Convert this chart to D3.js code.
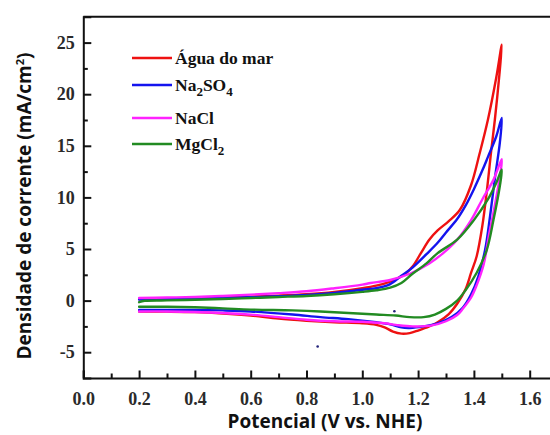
<!DOCTYPE html>
<html><head><meta charset="utf-8">
<script src="https://cdn.jsdelivr.net/npm/d3@7"></script>
<style>html,body{margin:0;padding:0;background:#fff;}svg{display:block;}</style>
</head><body>
<svg id="chart" width="550" height="435"></svg>
<script>
// ---- data ----
const seriesNames = ["Água do mar", "Na2SO4", "NaCl", "MgCl2"];
const seriesColors = ["#ee1111", "#1414ee", "#ff22ff", "#228b22"];

// Água do mar (forward then reverse)
const aguaV = [0.20,0.30,0.40,0.50,0.60,0.70,0.80,0.90,1.00,1.05,1.10,1.15,1.18,1.21,1.24,1.27,1.31,1.35,1.39,1.42,1.45,1.48,1.50,
               1.49,1.475,1.462,1.448,1.43,1.41,1.39,1.37,1.34,1.31,1.27,1.24,1.20,1.17,1.14,1.11,1.08,1.05,1.00,0.90,0.80,0.70,0.60,0.50,0.40,0.30,0.20];
const aguaI = [0.15,0.20,0.25,0.30,0.38,0.48,0.62,0.85,1.20,1.45,1.85,2.50,3.30,4.60,5.90,6.80,7.70,8.80,11.2,14.2,17.5,21.6,24.8,
               21.5,17.5,14.5,11.0,7.2,4.3,2.7,1.1,-0.3,-1.3,-2.1,-2.5,-2.9,-3.15,-3.2,-3.0,-2.6,-2.35,-2.2,-2.1,-1.95,-1.75,-1.45,-1.25,-1.12,-1.07,-1.05];

// Na2SO4
const na2so4V = [0.20,0.30,0.40,0.50,0.60,0.70,0.80,0.90,1.00,1.05,1.075,1.10,1.14,1.18,1.23,1.27,1.30,1.34,1.37,1.40,1.43,1.45,1.48,1.50,
                 1.493,1.476,1.458,1.44,1.416,1.39,1.36,1.32,1.27,1.22,1.17,1.14,1.10,1.05,0.95,0.85,0.75,0.60,0.50,0.40,0.30,0.20];
const na2so4I = [0.10,0.15,0.20,0.25,0.32,0.42,0.55,0.75,1.05,1.20,1.35,1.60,2.40,3.20,4.50,5.60,6.60,7.90,9.20,10.8,12.6,13.9,15.9,17.7,
                 15.3,12.0,8.2,4.9,2.35,0.6,-0.7,-1.6,-2.2,-2.5,-2.65,-2.6,-2.3,-2.1,-1.8,-1.6,-1.35,-1.05,-0.95,-0.9,-0.9,-0.9];

// NaCl
const naclV = [0.20,0.30,0.40,0.50,0.60,0.70,0.80,0.90,1.00,1.03,1.10,1.17,1.24,1.29,1.34,1.39,1.43,1.47,1.50,
               1.493,1.47,1.455,1.435,1.41,1.39,1.36,1.34,1.30,1.25,1.18,1.12,1.08,1.00,0.90,0.80,0.70,0.60,0.50,0.40,0.30,0.20];
const naclI = [0.25,0.30,0.35,0.45,0.58,0.72,0.90,1.20,1.55,1.70,2.00,2.60,3.60,4.60,5.90,7.80,9.80,11.7,13.7,
               12.0,8.5,6.5,3.5,1.5,0.3,-0.8,-1.4,-2.0,-2.4,-2.5,-2.35,-2.2,-2.05,-2.0,-1.85,-1.6,-1.36,-1.2,-1.1,-1.05,-1.05];

// MgCl2
const mgcl2V = [0.20,0.22,0.30,0.40,0.50,0.60,0.70,0.80,0.90,1.00,1.05,1.10,1.14,1.18,1.23,1.27,1.34,1.40,1.45,1.48,1.50,
                1.493,1.47,1.446,1.41,1.37,1.34,1.30,1.26,1.22,1.17,1.12,1.05,0.95,0.85,0.75,0.60,0.50,0.40,0.30,0.20];
const mgcl2I = [-0.15,-0.02,0.02,0.08,0.15,0.25,0.35,0.45,0.62,0.85,1.00,1.25,1.70,2.60,3.60,4.60,5.90,7.80,9.80,11.4,12.7,
                11.1,7.8,4.9,2.7,1.0,0.0,-0.8,-1.35,-1.6,-1.6,-1.45,-1.35,-1.2,-1.05,-0.95,-0.87,-0.75,-0.65,-0.6,-0.6];

// stray specks visible in the original image
const strayV = [0.84, 1.115];
const strayI = [-4.45, -1.03];

const xMajorTicks = [0.0,0.2,0.4,0.6,0.8,1.0,1.2,1.4,1.6];
const xMinorTicks = [0.1,0.3,0.5,0.7,0.9,1.1,1.3,1.5];
const yMajorTicks = [-5,0,5,10,15,20,25];
const yMinorTicks = [-2.5,2.5,7.5,12.5,17.5,22.5];

const xTitle = "Potencial (V vs. NHE)";

// ---- drawing ----
const svg = d3.select("#chart");
const x = d3.scaleLinear().domain([0, 1.7]).range([83.3, 83.3 + 1.7 * 279]);
const y = d3.scaleLinear().domain([-7.5, 27.5]).range([378, 16.8]);

const tickFont = "'Liberation Serif','Times New Roman',serif";
const titleFont = "'Open Sans','Noto Sans',sans-serif";

// curves
const seriesV = [aguaV, na2so4V, naclV, mgcl2V];
const seriesI = [aguaI, na2so4I, naclI, mgcl2I];
const line = d3.line().x(d => x(d[0])).y(d => y(d[1])).curve(d3.curveCatmullRom.alpha(0.5));
seriesV.forEach((vs, k) => {
  const pts = vs.map((v, i) => [v, seriesI[k][i]]);
  svg.append("path").datum(pts)
    .attr("d", line)
    .attr("fill", "none")
    .attr("stroke", seriesColors[k])
    .attr("stroke-width", 2.4)
    .attr("stroke-linejoin", "round")
    .attr("stroke-linecap", "round");
});

// stray specks
svg.selectAll("circle.stray").data(strayV).enter().append("circle")
  .attr("class", "stray")
  .attr("cx", (d) => x(d)).attr("cy", (d, i) => y(strayI[i]))
  .attr("r", 1.3).attr("fill", "#23237a");

// frame: top line
svg.append("line").attr("x1", x(0)).attr("x2", x(1.7)).attr("y1", y(27.5)).attr("y2", y(27.5))
  .attr("stroke", "#111").attr("stroke-width", 2);

// x axis
const gx = svg.append("g").attr("transform", `translate(0,${y(-7.5)})`);
gx.call(d3.axisBottom(x).tickValues(xMajorTicks).tickSize(-7.5).tickPadding(14.5).tickFormat(d3.format(".1f")));
const gxm = svg.append("g").attr("transform", `translate(0,${y(-7.5)})`);
gxm.call(d3.axisBottom(x).tickValues(xMinorTicks).tickSize(-4.5).tickFormat(""));
[gx, gxm].forEach(g => {
  g.select(".domain").attr("stroke", "#111").attr("stroke-width", 2);
  g.selectAll(".tick line").attr("stroke", "#111").attr("stroke-width", 2);
});
gxm.select(".domain").remove();
gx.selectAll(".tick text").attr("font-family", tickFont).attr("font-weight", "bold")
  .attr("font-size", 18).attr("fill", "#2a2a2a");

// y axis (hyphen-minus labels, as in the original)
const gy = svg.append("g").attr("transform", `translate(${x(0)},0)`);
gy.call(d3.axisLeft(y).tickValues(yMajorTicks).tickSize(-8).tickPadding(8.5).tickFormat(d => String(d)));
const gym = svg.append("g").attr("transform", `translate(${x(0)},0)`);
gym.call(d3.axisLeft(y).tickValues(yMinorTicks).tickSize(-4.5).tickFormat(""));
[gy, gym].forEach(g => {
  g.select(".domain").attr("stroke", "#111").attr("stroke-width", 2);
  g.selectAll(".tick line").attr("stroke", "#111").attr("stroke-width", 2);
});
gym.select(".domain").remove();
gy.selectAll(".tick text").attr("font-family", tickFont).attr("font-weight", "bold")
  .attr("font-size", 18).attr("fill", "#2a2a2a");

// axis titles
svg.append("text").attr("x", 325).attr("y", 428)
  .attr("text-anchor", "middle").attr("font-family", titleFont).attr("font-weight", "bold")
  .attr("font-size", 19).attr("fill", "#111").text(xTitle);

const yt = svg.append("text").attr("transform", "translate(31,206) rotate(-90)")
  .attr("text-anchor", "middle").attr("font-family", titleFont).attr("font-weight", "bold")
  .attr("font-size", 19).attr("fill", "#111");
yt.append("tspan").text("Densidade de corrente (mA/cm");
yt.append("tspan").attr("font-size", 11).attr("dy", -7).text("2");
yt.append("tspan").attr("dy", 7).text(")");

// legend
const legendRowsY = [58, 85, 118, 144];
const legendParts = [
  [["Água do mar", false]],
  [["Na", false], ["2", true], ["SO", false], ["4", true]],
  [["NaCl", false]],
  [["MgCl", false], ["2", true]]
];
legendRowsY.forEach((ly, k) => {
  svg.append("line").attr("x1", 132).attr("x2", 172).attr("y1", ly).attr("y2", ly)
    .attr("stroke", seriesColors[k]).attr("stroke-width", 2.6);
  const t = svg.append("text").attr("x", 175).attr("y", ly + 6)
    .attr("font-family", tickFont).attr("font-weight", "bold").attr("font-size", 17.5).attr("fill", "#111");
  let sub = false;
  legendParts[k].forEach(([s, isSub]) => {
    const ts = t.append("tspan").text(s);
    if (isSub && !sub) { ts.attr("dy", 5).attr("font-size", 13); sub = true; }
    else if (isSub && sub) { ts.attr("font-size", 13); }
    else if (!isSub && sub) { ts.attr("dy", -5); sub = false; }
  });
});
</script>
</body></html>
